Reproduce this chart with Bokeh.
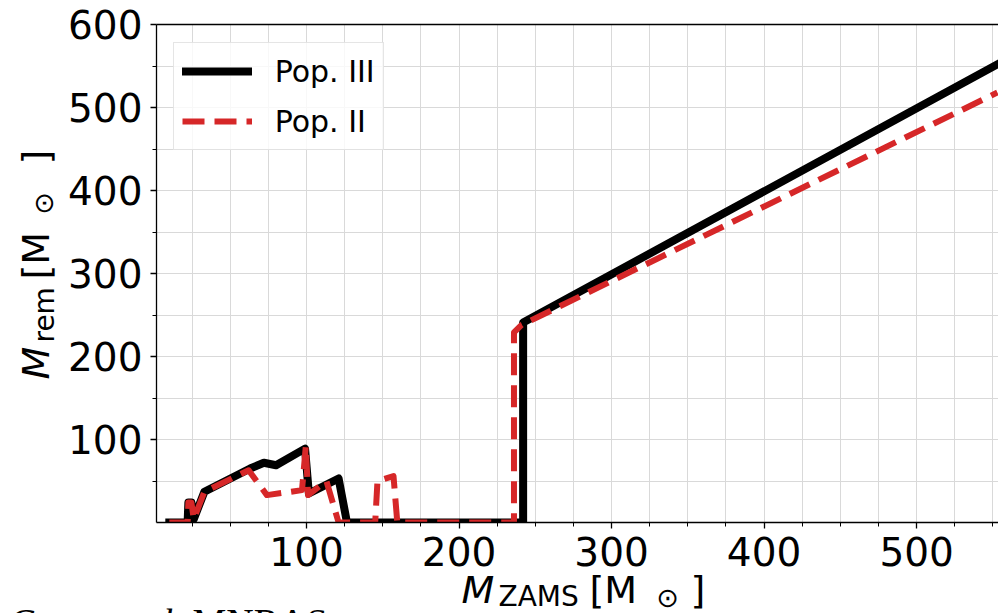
import math

from bokeh.plotting import figure
from bokeh.models import (Range1d, FixedTicker, LinearAxis, Label, Legend,
                          LegendItem, BoxAnnotation)
from bokeh.embed import file_html
from bokeh.resources import INLINE

# Remnant mass versus zero-age main-sequence mass
pop3_mzams = [10, 22, 22.5, 24.5, 26, 33, 63, 72, 80, 99, 101.5, 121, 126.5,
              242, 242, 553]
pop3_mrem = [0, 0, 24, 24, 4, 37, 65, 72, 69, 89, 35, 53, 0,
             0, 241, 552]

pop2_mzams = [10, 22, 22.5, 24.5, 26, 33, 62, 74, 97, 99.5, 101, 113, 121,
              145, 146.5, 157, 159.5, 236, 236, 241, 553]
pop2_mrem = [0, 0, 24, 24, 4, 37, 63, 33, 39, 92, 33, 50, 0,
             0, 50, 56, 0, 0, 229, 238, 518]

x_major = [100, 200, 300, 400, 500]
x_minor = [v for v in range(25, 551, 25) if v % 100]
y_major = [100, 200, 300, 400, 500, 600]
y_minor = [50, 150, 250, 350, 450, 550]

X_LO, X_HI = 1.6, 553.7      # axis extent along M_ZAMS
Y_LO, Y_HI = 0, 600          # axis extent along M_rem

FONT = "DejaVu Sans"
GRID = "#d9d9d9"
W, H = 998, 613
# axes box inside the canvas (pixels)
BOX_L, BOX_R, BOX_T, BOX_B = 156, 998, 24, 522

kx = (X_HI - X_LO) / (BOX_R - BOX_L)
ky = (Y_HI - Y_LO) / (BOX_B - BOX_T)
x_range = Range1d(X_LO - BOX_L * kx, X_HI + (W - BOX_R) * kx)
y_range = Range1d(Y_LO - (H - BOX_B) * ky, Y_HI + BOX_T * ky)

p = figure(width=W, height=H, output_backend="svg", toolbar_location=None,
           x_range=x_range, y_range=y_range,
           min_border=0, min_border_left=0, min_border_right=0,
           min_border_top=0, min_border_bottom=0)
p.outline_line_color = None
p.background_fill_color = "white"
p.border_fill_color = "white"

p.xaxis.fixed_location = Y_LO
p.xaxis.bounds = (X_LO, X_HI)
p.yaxis.fixed_location = X_LO
p.yaxis.bounds = (Y_LO, Y_HI)

for ax, major, minor in ((p.xaxis, x_major, x_minor), (p.yaxis, y_major, y_minor)):
    ax.ticker = FixedTicker(ticks=major, minor_ticks=minor)
    ax.axis_line_color = "black"
    ax.axis_line_width = 1.3
    ax.major_tick_line_color = "black"
    ax.minor_tick_line_color = "black"
    ax.major_tick_line_width = 1.3
    ax.minor_tick_line_width = 1
    ax.major_tick_in = 0
    ax.minor_tick_in = 0
    ax.major_tick_out = 6
    ax.minor_tick_out = 4
    ax.major_label_text_font = FONT
    ax.major_label_text_font_size = "39px"
    ax.major_label_text_color = "black"
    ax.major_label_standoff = 8

p.xgrid.bounds = (X_LO, X_HI)
p.xgrid.cross_bounds = (Y_LO, Y_HI)
p.ygrid.bounds = (Y_LO, Y_HI)
p.ygrid.cross_bounds = (X_LO, X_HI)
for g in (p.xgrid, p.ygrid):
    g.grid_line_color = GRID
    g.grid_line_width = 1
    g.minor_grid_line_color = GRID
    g.minor_grid_line_width = 1

# top spine
top = LinearAxis(ticker=FixedTicker(ticks=[]), fixed_location=Y_HI,
                 bounds=(X_LO, X_HI), axis_line_color="black",
                 axis_line_width=1.3, major_tick_line_color=None,
                 minor_tick_line_color=None, major_label_text_font_size="0px")
p.add_layout(top, "above")

r3 = p.line(pop3_mzams, pop3_mrem, line_color="black", line_width=8,
            line_join="round", line_cap="square")
r2 = p.line(pop2_mzams, pop2_mrem, line_color="#d62728", line_width=6,
            line_dash="22 10", line_join="round")

# keep the curves inside the axes box: mask the strip under the bottom spine
p.add_layout(BoxAnnotation(top=Y_LO, fill_color="white", fill_alpha=1,
                           line_color=None, level="glyph"))

legend = Legend(items=[LegendItem(label="Pop. III", renderers=[r3]),
                       LegendItem(label="Pop. II", renderers=[r2])],
                location=(172.7, H - 150))
legend.label_text_font = FONT
legend.label_text_font_size = "30px"
legend.label_text_color = "black"
legend.glyph_width = 70
legend.glyph_height = 40
legend.label_height = 40
legend.label_standoff = 23
legend.padding = 8
legend.spacing = 10
legend.margin = 0
legend.border_line_color = "#cccccc"
legend.border_line_width = 1.5
legend.background_fill_color = "white"
legend.background_fill_alpha = 0.8
p.add_layout(legend)

# Label's alphabetic anchor sits a little above the drawn baseline;
# these factors (per px of font size) compensate for that offset
DROP_H = 13 / 38
DROP_V = 15 / 38


def piece(text, cx, cy, size, italic=False, vertical=False, font=FONT):
    """Place a text run with its baseline start at canvas pixel (cx, cy)."""
    if vertical:
        cx -= DROP_V * size
        angle = math.pi / 2
    else:
        cy -= DROP_H * size
        angle = 0.0
    p.add_layout(Label(x=cx, y=H - cy, x_units="screen", y_units="screen",
                       text=text, text_font=font, text_font_size=f"{size}px",
                       text_font_style="italic" if italic else "normal",
                       text_color="black", text_align="left",
                       text_baseline="alphabetic", angle=angle))


# x title: M_ZAMS [M_sun]
piece("M", 461, 602, 38, italic=True)
piece("ZAMS", 498, 606, 28)
piece("[M", 589, 602, 38)
piece("\u2299", 656, 606, 27)
piece("]", 690, 602, 38)

# y title: M_rem [M_sun], rotated
piece("M", 50, 379, 38, italic=True, vertical=True)
piece("rem", 55, 342, 28, vertical=True)
piece("[M", 50, 279, 38, vertical=True)
piece("\u2299", 54, 214, 27, vertical=True)
piece("]", 50, 164, 38, vertical=True)

# running header below the figure
piece("Costa et al.", 8, 634, 38, italic=True, font="Liberation Serif")
piece("MNRAS", 192, 634, 38, font="Liberation Serif")

open("out.html", "w").write(file_html(p, INLINE))
